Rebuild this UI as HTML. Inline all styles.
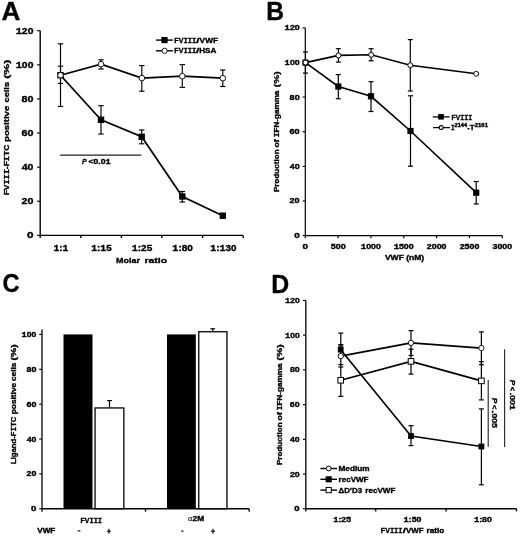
<!DOCTYPE html>
<html><head><meta charset="utf-8"><style>
html,body{margin:0;padding:0;background:#fff;}
svg{display:block;will-change:transform;}
text{font-family:"Liberation Sans",sans-serif;fill:#000;font-kerning:none;stroke:#000;stroke-width:0.35px;}
</style></head><body>
<svg width="520" height="536" viewBox="0 0 520 536">
<rect width="520" height="536" fill="#fff"/>
<line x1="40.20" y1="30.70" x2="40.20" y2="238.00" stroke="#000" stroke-width="1.4"/>
<line x1="40.20" y1="235.40" x2="243.20" y2="235.40" stroke="#000" stroke-width="1.4"/>
<line x1="37.00" y1="235.40" x2="40.20" y2="235.40" stroke="#000" stroke-width="1.1"/>
<line x1="37.00" y1="201.28" x2="40.20" y2="201.28" stroke="#000" stroke-width="1.1"/>
<line x1="37.00" y1="167.17" x2="40.20" y2="167.17" stroke="#000" stroke-width="1.1"/>
<line x1="37.00" y1="133.05" x2="40.20" y2="133.05" stroke="#000" stroke-width="1.1"/>
<line x1="37.00" y1="98.93" x2="40.20" y2="98.93" stroke="#000" stroke-width="1.1"/>
<line x1="37.00" y1="64.82" x2="40.20" y2="64.82" stroke="#000" stroke-width="1.1"/>
<line x1="37.00" y1="30.70" x2="40.20" y2="30.70" stroke="#000" stroke-width="1.1"/>
<line x1="80.80" y1="235.40" x2="80.80" y2="238.00" stroke="#000" stroke-width="1.4"/>
<line x1="121.40" y1="235.40" x2="121.40" y2="238.00" stroke="#000" stroke-width="1.4"/>
<line x1="161.80" y1="235.40" x2="161.80" y2="238.00" stroke="#000" stroke-width="1.4"/>
<line x1="202.60" y1="235.40" x2="202.60" y2="238.00" stroke="#000" stroke-width="1.4"/>
<line x1="243.20" y1="235.40" x2="243.20" y2="238.00" stroke="#000" stroke-width="1.4"/>
<text x="26.99" y="238.30" textLength="6.49" lengthAdjust="spacingAndGlyphs" style="font-size:8.43px;font-weight:bold;">0</text>
<text x="21.53" y="204.18" textLength="11.91" lengthAdjust="spacingAndGlyphs" style="font-size:8.43px;font-weight:bold;">20</text>
<text x="21.74" y="170.07" textLength="11.69" lengthAdjust="spacingAndGlyphs" style="font-size:8.43px;font-weight:bold;">40</text>
<text x="21.51" y="135.95" textLength="11.93" lengthAdjust="spacingAndGlyphs" style="font-size:8.43px;font-weight:bold;">60</text>
<text x="21.56" y="101.83" textLength="11.88" lengthAdjust="spacingAndGlyphs" style="font-size:8.43px;font-weight:bold;">80</text>
<text x="15.65" y="67.72" textLength="17.78" lengthAdjust="spacingAndGlyphs" style="font-size:8.43px;font-weight:bold;"><tspan style="font-family:&quot;Liberation Mono&quot;">1</tspan>00</text>
<text x="15.65" y="33.60" textLength="17.78" lengthAdjust="spacingAndGlyphs" style="font-size:8.43px;font-weight:bold;"><tspan style="font-family:&quot;Liberation Mono&quot;">1</tspan>20</text>
<text x="53.57" y="250.80" textLength="14.81" lengthAdjust="spacingAndGlyphs" style="font-size:8.87px;font-weight:bold;"><tspan style="font-family:&quot;Liberation Mono&quot;">1</tspan>:<tspan style="font-family:&quot;Liberation Mono&quot;">1</tspan></text>
<text x="91.19" y="250.80" textLength="20.43" lengthAdjust="spacingAndGlyphs" style="font-size:8.87px;font-weight:bold;"><tspan style="font-family:&quot;Liberation Mono&quot;">1</tspan>:<tspan style="font-family:&quot;Liberation Mono&quot;">1</tspan>5</text>
<text x="131.78" y="250.80" textLength="20.45" lengthAdjust="spacingAndGlyphs" style="font-size:8.87px;font-weight:bold;"><tspan style="font-family:&quot;Liberation Mono&quot;">1</tspan>:25</text>
<text x="172.37" y="250.80" textLength="20.59" lengthAdjust="spacingAndGlyphs" style="font-size:8.87px;font-weight:bold;"><tspan style="font-family:&quot;Liberation Mono&quot;">1</tspan>:80</text>
<text x="210.34" y="250.80" textLength="26.07" lengthAdjust="spacingAndGlyphs" style="font-size:8.87px;font-weight:bold;"><tspan style="font-family:&quot;Liberation Mono&quot;">1</tspan>:<tspan style="font-family:&quot;Liberation Mono&quot;">1</tspan>30</text>
<text x="116.10" y="263.10" textLength="23.83" lengthAdjust="spacingAndGlyphs" style="font-size:7.80px;font-weight:bold;">Molar</text>
<text x="144.51" y="263.10" textLength="22.59" lengthAdjust="spacingAndGlyphs" style="font-size:7.80px;font-weight:bold;">ratio</text>
<text transform="translate(9.30,195.37) rotate(-90)" x="0" y="0" textLength="50.70" lengthAdjust="spacingAndGlyphs" style="font-size:7.90px;font-weight:bold;">FV<tspan style="font-family:&quot;Liberation Mono&quot;">III</tspan>-F<tspan style="font-family:&quot;Liberation Mono&quot;">I</tspan>TC</text>
<text transform="translate(9.30,141.93) rotate(-90)" x="0" y="0" textLength="36.16" lengthAdjust="spacingAndGlyphs" style="font-size:7.90px;font-weight:bold;">positive</text>
<text transform="translate(9.30,102.46) rotate(-90)" x="0" y="0" textLength="20.54" lengthAdjust="spacingAndGlyphs" style="font-size:7.90px;font-weight:bold;">cells</text>
<text transform="translate(9.30,78.81) rotate(-90)" x="0" y="0" textLength="19.12" lengthAdjust="spacingAndGlyphs" style="font-size:7.90px;font-weight:bold;">(%)</text>
<text x="1.45" y="20.10" textLength="18.84" lengthAdjust="spacingAndGlyphs" style="font-size:26.16px;font-weight:bold;">A</text>
<line x1="60.10" y1="155.10" x2="141.30" y2="155.10" stroke="#222" stroke-width="1.2"/>
<line x1="60.50" y1="43.80" x2="60.50" y2="106.50" stroke="#000" stroke-width="1.15"/>
<line x1="57.80" y1="43.80" x2="63.20" y2="43.80" stroke="#000" stroke-width="1.15"/>
<line x1="57.80" y1="106.50" x2="63.20" y2="106.50" stroke="#000" stroke-width="1.15"/>
<line x1="60.50" y1="66.20" x2="60.50" y2="83.50" stroke="#000" stroke-width="1.15"/>
<line x1="57.80" y1="66.20" x2="63.20" y2="66.20" stroke="#000" stroke-width="1.15"/>
<line x1="57.80" y1="83.50" x2="63.20" y2="83.50" stroke="#000" stroke-width="1.15"/>
<line x1="101.00" y1="59.80" x2="101.00" y2="69.00" stroke="#000" stroke-width="1.15"/>
<line x1="98.30" y1="59.80" x2="103.70" y2="59.80" stroke="#000" stroke-width="1.15"/>
<line x1="98.30" y1="69.00" x2="103.70" y2="69.00" stroke="#000" stroke-width="1.15"/>
<line x1="101.00" y1="105.70" x2="101.00" y2="134.00" stroke="#000" stroke-width="1.15"/>
<line x1="98.30" y1="105.70" x2="103.70" y2="105.70" stroke="#000" stroke-width="1.15"/>
<line x1="98.30" y1="134.00" x2="103.70" y2="134.00" stroke="#000" stroke-width="1.15"/>
<line x1="141.80" y1="65.60" x2="141.80" y2="91.20" stroke="#000" stroke-width="1.15"/>
<line x1="139.10" y1="65.60" x2="144.50" y2="65.60" stroke="#000" stroke-width="1.15"/>
<line x1="139.10" y1="91.20" x2="144.50" y2="91.20" stroke="#000" stroke-width="1.15"/>
<line x1="141.70" y1="130.00" x2="141.70" y2="143.80" stroke="#000" stroke-width="1.15"/>
<line x1="139.00" y1="130.00" x2="144.40" y2="130.00" stroke="#000" stroke-width="1.15"/>
<line x1="139.00" y1="143.80" x2="144.40" y2="143.80" stroke="#000" stroke-width="1.15"/>
<line x1="182.30" y1="64.60" x2="182.30" y2="87.40" stroke="#000" stroke-width="1.15"/>
<line x1="179.60" y1="64.60" x2="185.00" y2="64.60" stroke="#000" stroke-width="1.15"/>
<line x1="179.60" y1="87.40" x2="185.00" y2="87.40" stroke="#000" stroke-width="1.15"/>
<line x1="182.30" y1="191.50" x2="182.30" y2="202.00" stroke="#000" stroke-width="1.15"/>
<line x1="179.60" y1="191.50" x2="185.00" y2="191.50" stroke="#000" stroke-width="1.15"/>
<line x1="179.60" y1="202.00" x2="185.00" y2="202.00" stroke="#000" stroke-width="1.15"/>
<line x1="222.80" y1="70.00" x2="222.80" y2="86.50" stroke="#000" stroke-width="1.15"/>
<line x1="220.10" y1="70.00" x2="225.50" y2="70.00" stroke="#000" stroke-width="1.15"/>
<line x1="220.10" y1="86.50" x2="225.50" y2="86.50" stroke="#000" stroke-width="1.15"/>
<polyline points="60.50,75.20 101.00,119.80 141.70,136.80 182.30,196.50 222.80,215.70" fill="none" stroke="#000" stroke-width="1.7" stroke-linejoin="miter"/>
<polyline points="60.50,75.20 101.00,64.20 141.90,78.10 182.30,76.20 222.80,78.20" fill="none" stroke="#000" stroke-width="1.7" stroke-linejoin="miter"/>
<rect x="57.30" y="72.00" width="6.4" height="6.4" fill="#000"/>
<rect x="97.80" y="116.60" width="6.4" height="6.4" fill="#000"/>
<rect x="138.50" y="133.60" width="6.4" height="6.4" fill="#000"/>
<rect x="179.10" y="193.30" width="6.4" height="6.4" fill="#000"/>
<rect x="219.60" y="212.50" width="6.4" height="6.4" fill="#000"/>
<circle cx="60.50" cy="75.20" r="2.80" fill="#fff" stroke="#000" stroke-width="0.9"/>
<circle cx="101.00" cy="64.20" r="2.80" fill="#fff" stroke="#000" stroke-width="0.9"/>
<circle cx="141.90" cy="78.10" r="2.80" fill="#fff" stroke="#000" stroke-width="0.9"/>
<circle cx="182.30" cy="76.20" r="2.80" fill="#fff" stroke="#000" stroke-width="0.9"/>
<circle cx="222.80" cy="78.20" r="2.80" fill="#fff" stroke="#000" stroke-width="0.9"/>
<line x1="156.00" y1="40.10" x2="172.90" y2="40.10" stroke="#000" stroke-width="1.4"/>
<rect x="161.40" y="37.00" width="6.2" height="6.2" fill="#000"/>
<line x1="156.00" y1="50.80" x2="172.90" y2="50.80" stroke="#000" stroke-width="1.4"/>
<circle cx="164.60" cy="50.80" r="2.65" fill="#fff" stroke="#000" stroke-width="0.9"/>
<text x="174.32" y="42.50" textLength="22.02" lengthAdjust="spacingAndGlyphs" style="font-size:7.41px;font-weight:bold;">FV<tspan style="font-family:&quot;Liberation Mono&quot;">III</tspan></text>
<text x="196.39" y="42.50" textLength="3.23" lengthAdjust="spacingAndGlyphs" style="font-size:7.41px;font-weight:bold;">/</text>
<text x="199.64" y="42.50" textLength="18.36" lengthAdjust="spacingAndGlyphs" style="font-size:7.41px;font-weight:bold;">VWF</text>
<text x="174.32" y="53.40" textLength="22.02" lengthAdjust="spacingAndGlyphs" style="font-size:7.41px;font-weight:bold;">FV<tspan style="font-family:&quot;Liberation Mono&quot;">III</tspan></text>
<text x="196.09" y="53.40" textLength="3.23" lengthAdjust="spacingAndGlyphs" style="font-size:7.41px;font-weight:bold;">/</text>
<text x="199.16" y="53.40" textLength="17.16" lengthAdjust="spacingAndGlyphs" style="font-size:7.41px;font-weight:bold;">HSA</text>
<text x="81.88" y="164.00" textLength="4.71" lengthAdjust="spacingAndGlyphs" style="font-size:7.41px;font-weight:bold;font-style:italic;">P</text>
<text x="88.44" y="164.00" textLength="22.23" lengthAdjust="spacingAndGlyphs" style="font-size:7.41px;font-weight:bold;">&lt;0.0<tspan style="font-family:&quot;Liberation Mono&quot;">1</tspan></text>
<line x1="305.30" y1="27.90" x2="305.30" y2="238.20" stroke="#000" stroke-width="1.2"/>
<line x1="305.30" y1="235.60" x2="502.30" y2="235.60" stroke="#000" stroke-width="1.2"/>
<line x1="302.60" y1="235.60" x2="305.30" y2="235.60" stroke="#000" stroke-width="1.1"/>
<line x1="302.60" y1="200.98" x2="305.30" y2="200.98" stroke="#000" stroke-width="1.1"/>
<line x1="302.60" y1="166.37" x2="305.30" y2="166.37" stroke="#000" stroke-width="1.1"/>
<line x1="302.60" y1="131.75" x2="305.30" y2="131.75" stroke="#000" stroke-width="1.1"/>
<line x1="302.60" y1="97.13" x2="305.30" y2="97.13" stroke="#000" stroke-width="1.1"/>
<line x1="302.60" y1="62.52" x2="305.30" y2="62.52" stroke="#000" stroke-width="1.1"/>
<line x1="302.60" y1="27.90" x2="305.30" y2="27.90" stroke="#000" stroke-width="1.1"/>
<line x1="338.13" y1="235.60" x2="338.13" y2="238.20" stroke="#000" stroke-width="1.2"/>
<line x1="370.97" y1="235.60" x2="370.97" y2="238.20" stroke="#000" stroke-width="1.2"/>
<line x1="403.80" y1="235.60" x2="403.80" y2="238.20" stroke="#000" stroke-width="1.2"/>
<line x1="436.63" y1="235.60" x2="436.63" y2="238.20" stroke="#000" stroke-width="1.2"/>
<line x1="469.47" y1="235.60" x2="469.47" y2="238.20" stroke="#000" stroke-width="1.2"/>
<line x1="502.30" y1="235.60" x2="502.30" y2="238.20" stroke="#000" stroke-width="1.2"/>
<text x="294.21" y="238.10" textLength="5.50" lengthAdjust="spacingAndGlyphs" style="font-size:7.27px;font-weight:bold;">0</text>
<text x="289.59" y="203.48" textLength="10.09" lengthAdjust="spacingAndGlyphs" style="font-size:7.27px;font-weight:bold;">20</text>
<text x="289.77" y="168.87" textLength="9.90" lengthAdjust="spacingAndGlyphs" style="font-size:7.27px;font-weight:bold;">40</text>
<text x="289.57" y="134.25" textLength="10.11" lengthAdjust="spacingAndGlyphs" style="font-size:7.27px;font-weight:bold;">60</text>
<text x="289.61" y="99.63" textLength="10.06" lengthAdjust="spacingAndGlyphs" style="font-size:7.27px;font-weight:bold;">80</text>
<text x="284.61" y="65.02" textLength="15.05" lengthAdjust="spacingAndGlyphs" style="font-size:7.27px;font-weight:bold;"><tspan style="font-family:&quot;Liberation Mono&quot;">1</tspan>00</text>
<text x="284.61" y="30.40" textLength="15.05" lengthAdjust="spacingAndGlyphs" style="font-size:7.27px;font-weight:bold;"><tspan style="font-family:&quot;Liberation Mono&quot;">1</tspan>20</text>
<text x="302.53" y="248.90" textLength="5.55" lengthAdjust="spacingAndGlyphs" style="font-size:6.98px;font-weight:bold;">0</text>
<text x="330.73" y="248.90" textLength="14.89" lengthAdjust="spacingAndGlyphs" style="font-size:6.98px;font-weight:bold;">500</text>
<text x="360.87" y="248.90" textLength="19.95" lengthAdjust="spacingAndGlyphs" style="font-size:6.98px;font-weight:bold;"><tspan style="font-family:&quot;Liberation Mono&quot;">1</tspan>000</text>
<text x="393.71" y="248.90" textLength="19.95" lengthAdjust="spacingAndGlyphs" style="font-size:6.98px;font-weight:bold;"><tspan style="font-family:&quot;Liberation Mono&quot;">1</tspan>500</text>
<text x="426.83" y="248.90" textLength="19.67" lengthAdjust="spacingAndGlyphs" style="font-size:6.98px;font-weight:bold;">2000</text>
<text x="459.66" y="248.90" textLength="19.67" lengthAdjust="spacingAndGlyphs" style="font-size:6.98px;font-weight:bold;">2500</text>
<text x="492.60" y="248.90" textLength="19.56" lengthAdjust="spacingAndGlyphs" style="font-size:6.98px;font-weight:bold;">3000</text>
<text x="384.94" y="259.90" textLength="39.18" lengthAdjust="spacingAndGlyphs" style="font-size:7.00px;font-weight:bold;">VWF (nM)</text>
<text transform="translate(279.00,192.04) rotate(-90)" x="0" y="0" textLength="42.64" lengthAdjust="spacingAndGlyphs" style="font-size:7.60px;font-weight:bold;">Production</text>
<text transform="translate(279.00,147.44) rotate(-90)" x="0" y="0" textLength="8.12" lengthAdjust="spacingAndGlyphs" style="font-size:7.60px;font-weight:bold;">of</text>
<text transform="translate(279.00,137.32) rotate(-90)" x="0" y="0" textLength="46.67" lengthAdjust="spacingAndGlyphs" style="font-size:7.60px;font-weight:bold;"><tspan style="font-family:&quot;Liberation Mono&quot;">I</tspan>FN-gamma</text>
<text transform="translate(279.00,87.21) rotate(-90)" x="0" y="0" textLength="15.81" lengthAdjust="spacingAndGlyphs" style="font-size:7.60px;font-weight:bold;">(%)</text>
<text x="266.25" y="20.30" textLength="17.76" lengthAdjust="spacingAndGlyphs" style="font-size:26.45px;font-weight:bold;">B</text>
<line x1="305.50" y1="51.90" x2="305.50" y2="73.10" stroke="#000" stroke-width="1.2"/>
<line x1="303.00" y1="51.90" x2="308.00" y2="51.90" stroke="#000" stroke-width="1.2"/>
<line x1="303.00" y1="73.10" x2="308.00" y2="73.10" stroke="#000" stroke-width="1.2"/>
<line x1="338.40" y1="48.70" x2="338.40" y2="62.10" stroke="#000" stroke-width="1.2"/>
<line x1="335.90" y1="48.70" x2="340.90" y2="48.70" stroke="#000" stroke-width="1.2"/>
<line x1="335.90" y1="62.10" x2="340.90" y2="62.10" stroke="#000" stroke-width="1.2"/>
<line x1="338.30" y1="74.60" x2="338.30" y2="98.70" stroke="#000" stroke-width="1.2"/>
<line x1="335.80" y1="74.60" x2="340.80" y2="74.60" stroke="#000" stroke-width="1.2"/>
<line x1="335.80" y1="98.70" x2="340.80" y2="98.70" stroke="#000" stroke-width="1.2"/>
<line x1="371.10" y1="48.70" x2="371.10" y2="60.80" stroke="#000" stroke-width="1.2"/>
<line x1="368.60" y1="48.70" x2="373.60" y2="48.70" stroke="#000" stroke-width="1.2"/>
<line x1="368.60" y1="60.80" x2="373.60" y2="60.80" stroke="#000" stroke-width="1.2"/>
<line x1="371.00" y1="81.70" x2="371.00" y2="111.50" stroke="#000" stroke-width="1.2"/>
<line x1="368.50" y1="81.70" x2="373.50" y2="81.70" stroke="#000" stroke-width="1.2"/>
<line x1="368.50" y1="111.50" x2="373.50" y2="111.50" stroke="#000" stroke-width="1.2"/>
<line x1="410.30" y1="39.60" x2="410.30" y2="91.00" stroke="#000" stroke-width="1.2"/>
<line x1="407.80" y1="39.60" x2="412.80" y2="39.60" stroke="#000" stroke-width="1.2"/>
<line x1="407.80" y1="91.00" x2="412.80" y2="91.00" stroke="#000" stroke-width="1.2"/>
<line x1="410.50" y1="95.80" x2="410.50" y2="166.20" stroke="#000" stroke-width="1.2"/>
<line x1="408.00" y1="95.80" x2="413.00" y2="95.80" stroke="#000" stroke-width="1.2"/>
<line x1="408.00" y1="166.20" x2="413.00" y2="166.20" stroke="#000" stroke-width="1.2"/>
<line x1="476.20" y1="181.50" x2="476.20" y2="204.00" stroke="#000" stroke-width="1.2"/>
<line x1="473.70" y1="181.50" x2="478.70" y2="181.50" stroke="#000" stroke-width="1.2"/>
<line x1="473.70" y1="204.00" x2="478.70" y2="204.00" stroke="#000" stroke-width="1.2"/>
<polyline points="305.50,62.60 338.30,86.50 371.00,96.30 410.50,131.00 476.20,192.70" fill="none" stroke="#000" stroke-width="1.6" stroke-linejoin="miter"/>
<polyline points="305.50,62.60 338.50,55.40 371.20,54.80 410.30,65.20 476.20,73.80" fill="none" stroke="#000" stroke-width="1.6" stroke-linejoin="miter"/>
<rect x="302.40" y="59.50" width="6.2" height="6.2" fill="#000"/>
<rect x="335.20" y="83.40" width="6.2" height="6.2" fill="#000"/>
<rect x="367.90" y="93.20" width="6.2" height="6.2" fill="#000"/>
<rect x="407.40" y="127.90" width="6.2" height="6.2" fill="#000"/>
<rect x="473.10" y="189.60" width="6.2" height="6.2" fill="#000"/>
<circle cx="305.50" cy="62.60" r="2.48" fill="#fff" stroke="#000" stroke-width="0.95"/>
<circle cx="338.50" cy="55.40" r="2.48" fill="#fff" stroke="#000" stroke-width="0.95"/>
<circle cx="371.20" cy="54.80" r="2.48" fill="#fff" stroke="#000" stroke-width="0.95"/>
<circle cx="410.30" cy="65.20" r="2.48" fill="#fff" stroke="#000" stroke-width="0.95"/>
<circle cx="476.20" cy="73.80" r="2.48" fill="#fff" stroke="#000" stroke-width="0.95"/>
<line x1="432.90" y1="116.90" x2="449.60" y2="116.90" stroke="#000" stroke-width="1.3"/>
<rect x="438.20" y="114.00" width="5.6" height="5.6" fill="#000"/>
<line x1="433.10" y1="127.60" x2="449.90" y2="127.60" stroke="#000" stroke-width="1.3"/>
<circle cx="441.20" cy="127.60" r="1.95" fill="#fff" stroke="#000" stroke-width="1.1"/>
<text x="451.55" y="119.50" textLength="20.87" lengthAdjust="spacingAndGlyphs" style="font-size:7.41px;font-weight:bold;">FV<tspan style="font-family:&quot;Liberation Mono&quot;">III</tspan></text>
<text x="450.94" y="129.80" textLength="3.62" lengthAdjust="spacingAndGlyphs" style="font-size:7.27px;font-weight:bold;"><tspan style="font-family:&quot;Liberation Mono&quot;">I</tspan></text>
<text x="454.61" y="126.60" textLength="12.42" lengthAdjust="spacingAndGlyphs" style="font-size:4.80px;font-weight:bold;">2144</text>
<rect x="467.4" y="128.0" width="2.1" height="1.4" fill="#000"/>
<text x="469.71" y="129.80" textLength="4.77" lengthAdjust="spacingAndGlyphs" style="font-size:7.27px;font-weight:bold;">T</text>
<text x="474.79" y="126.60" textLength="13.17" lengthAdjust="spacingAndGlyphs" style="font-size:4.80px;font-weight:bold;">2161</text>
<line x1="42.00" y1="329.40" x2="42.00" y2="511.70" stroke="#000" stroke-width="1.3"/>
<line x1="42.00" y1="508.75" x2="249.20" y2="508.75" stroke="#000" stroke-width="1.3"/>
<line x1="39.20" y1="508.75" x2="42.00" y2="508.75" stroke="#000" stroke-width="1.1"/>
<line x1="39.20" y1="473.88" x2="42.00" y2="473.88" stroke="#000" stroke-width="1.1"/>
<line x1="39.20" y1="439.01" x2="42.00" y2="439.01" stroke="#000" stroke-width="1.1"/>
<line x1="39.20" y1="404.14" x2="42.00" y2="404.14" stroke="#000" stroke-width="1.1"/>
<line x1="39.20" y1="369.27" x2="42.00" y2="369.27" stroke="#000" stroke-width="1.1"/>
<line x1="39.20" y1="334.40" x2="42.00" y2="334.40" stroke="#000" stroke-width="1.1"/>
<line x1="145.50" y1="508.75" x2="145.50" y2="511.70" stroke="#000" stroke-width="1.3"/>
<line x1="249.20" y1="508.75" x2="249.20" y2="511.70" stroke="#000" stroke-width="1.3"/>
<text x="31.02" y="511.25" textLength="5.38" lengthAdjust="spacingAndGlyphs" style="font-size:7.27px;font-weight:bold;">0</text>
<text x="26.49" y="476.38" textLength="9.87" lengthAdjust="spacingAndGlyphs" style="font-size:7.27px;font-weight:bold;">20</text>
<text x="26.67" y="441.51" textLength="9.69" lengthAdjust="spacingAndGlyphs" style="font-size:7.27px;font-weight:bold;">40</text>
<text x="26.47" y="406.64" textLength="9.89" lengthAdjust="spacingAndGlyphs" style="font-size:7.27px;font-weight:bold;">60</text>
<text x="26.52" y="371.77" textLength="9.84" lengthAdjust="spacingAndGlyphs" style="font-size:7.27px;font-weight:bold;">80</text>
<text x="21.62" y="336.90" textLength="14.73" lengthAdjust="spacingAndGlyphs" style="font-size:7.27px;font-weight:bold;"><tspan style="font-family:&quot;Liberation Mono&quot;">1</tspan>00</text>
<rect x="63.5" y="334.40" width="29.0" height="174.35" fill="#000"/>
<rect x="167.0" y="334.40" width="28.8" height="174.35" fill="#000"/>
<rect x="95.05" y="407.95" width="28.8" height="100.80" fill="#fff" stroke="#000" stroke-width="1.3"/>
<rect x="198.75" y="331.75" width="28.2" height="177.00" fill="#fff" stroke="#000" stroke-width="1.3"/>
<line x1="109.50" y1="400.60" x2="109.50" y2="407.30" stroke="#000" stroke-width="1.2"/>
<line x1="107.10" y1="400.60" x2="111.90" y2="400.60" stroke="#000" stroke-width="1.2"/>
<line x1="212.70" y1="328.80" x2="212.70" y2="331.10" stroke="#000" stroke-width="1.2"/>
<line x1="210.40" y1="328.80" x2="215.10" y2="328.80" stroke="#000" stroke-width="1.2"/>
<text x="80.53" y="523.00" textLength="21.50" lengthAdjust="spacingAndGlyphs" style="font-size:6.83px;font-weight:bold;">FV<tspan style="font-family:&quot;Liberation Mono&quot;">III</tspan></text>
<text x="187.99" y="520.90" textLength="4.22" lengthAdjust="spacingAndGlyphs" style="font-size:6.60px;stroke-width:0.1px;">α</text>
<text x="192.51" y="521.00" textLength="11.65" lengthAdjust="spacingAndGlyphs" style="font-size:6.98px;font-weight:bold;">2M</text>
<text x="37.24" y="533.00" textLength="18.05" lengthAdjust="spacingAndGlyphs" style="font-size:6.54px;font-weight:bold;">VWF</text>
<line x1="77.70" y1="530.90" x2="80.40" y2="530.90" stroke="#000" stroke-width="1.1"/>
<line x1="181.20" y1="531.10" x2="183.50" y2="531.10" stroke="#000" stroke-width="1.1"/>
<line x1="106.90" y1="531.20" x2="110.90" y2="531.20" stroke="#000" stroke-width="1.1"/>
<line x1="108.90" y1="528.70" x2="108.90" y2="533.80" stroke="#000" stroke-width="1.1"/>
<line x1="211.00" y1="531.20" x2="215.00" y2="531.20" stroke="#000" stroke-width="1.1"/>
<line x1="213.00" y1="528.70" x2="213.00" y2="533.80" stroke="#000" stroke-width="1.1"/>
<text transform="translate(16.00,464.02) rotate(-90)" x="0" y="0" textLength="47.43" lengthAdjust="spacingAndGlyphs" style="font-size:7.50px;font-weight:bold;">Ligand-F<tspan style="font-family:&quot;Liberation Mono&quot;">I</tspan>TC</text>
<text transform="translate(16.00,414.25) rotate(-90)" x="0" y="0" textLength="31.43" lengthAdjust="spacingAndGlyphs" style="font-size:7.50px;font-weight:bold;">positive</text>
<text transform="translate(16.00,380.92) rotate(-90)" x="0" y="0" textLength="18.36" lengthAdjust="spacingAndGlyphs" style="font-size:7.50px;font-weight:bold;">cells</text>
<text transform="translate(16.00,360.42) rotate(-90)" x="0" y="0" textLength="16.13" lengthAdjust="spacingAndGlyphs" style="font-size:7.50px;font-weight:bold;">(%)</text>
<text x="2.53" y="292.24" textLength="17.01" lengthAdjust="spacingAndGlyphs" style="font-size:26.40px;font-weight:bold;">C</text>
<line x1="305.80" y1="300.40" x2="305.80" y2="511.40" stroke="#000" stroke-width="1.3"/>
<line x1="305.80" y1="508.75" x2="516.50" y2="508.75" stroke="#000" stroke-width="1.3"/>
<line x1="302.90" y1="508.75" x2="305.80" y2="508.75" stroke="#000" stroke-width="1.1"/>
<line x1="302.90" y1="474.03" x2="305.80" y2="474.03" stroke="#000" stroke-width="1.1"/>
<line x1="302.90" y1="439.31" x2="305.80" y2="439.31" stroke="#000" stroke-width="1.1"/>
<line x1="302.90" y1="404.59" x2="305.80" y2="404.59" stroke="#000" stroke-width="1.1"/>
<line x1="302.90" y1="369.87" x2="305.80" y2="369.87" stroke="#000" stroke-width="1.1"/>
<line x1="302.90" y1="335.15" x2="305.80" y2="335.15" stroke="#000" stroke-width="1.1"/>
<line x1="302.90" y1="300.43" x2="305.80" y2="300.43" stroke="#000" stroke-width="1.1"/>
<line x1="375.70" y1="508.75" x2="375.70" y2="511.40" stroke="#000" stroke-width="1.3"/>
<line x1="446.10" y1="508.75" x2="446.10" y2="511.40" stroke="#000" stroke-width="1.3"/>
<line x1="516.50" y1="508.75" x2="516.50" y2="511.40" stroke="#000" stroke-width="1.3"/>
<text x="294.37" y="511.30" textLength="5.32" lengthAdjust="spacingAndGlyphs" style="font-size:7.41px;font-weight:bold;">0</text>
<text x="289.90" y="476.58" textLength="9.76" lengthAdjust="spacingAndGlyphs" style="font-size:7.41px;font-weight:bold;">20</text>
<text x="290.07" y="441.86" textLength="9.58" lengthAdjust="spacingAndGlyphs" style="font-size:7.41px;font-weight:bold;">40</text>
<text x="289.88" y="407.14" textLength="9.78" lengthAdjust="spacingAndGlyphs" style="font-size:7.41px;font-weight:bold;">60</text>
<text x="289.92" y="372.42" textLength="9.74" lengthAdjust="spacingAndGlyphs" style="font-size:7.41px;font-weight:bold;">80</text>
<text x="285.08" y="337.70" textLength="14.57" lengthAdjust="spacingAndGlyphs" style="font-size:7.41px;font-weight:bold;"><tspan style="font-family:&quot;Liberation Mono&quot;">1</tspan>00</text>
<text x="285.08" y="302.98" textLength="14.57" lengthAdjust="spacingAndGlyphs" style="font-size:7.41px;font-weight:bold;"><tspan style="font-family:&quot;Liberation Mono&quot;">1</tspan>20</text>
<text x="333.21" y="522.10" textLength="17.83" lengthAdjust="spacingAndGlyphs" style="font-size:7.12px;font-weight:bold;"><tspan style="font-family:&quot;Liberation Mono&quot;">1</tspan>:25</text>
<text x="403.51" y="522.10" textLength="17.95" lengthAdjust="spacingAndGlyphs" style="font-size:7.12px;font-weight:bold;"><tspan style="font-family:&quot;Liberation Mono&quot;">1</tspan>:50</text>
<text x="473.91" y="522.10" textLength="17.95" lengthAdjust="spacingAndGlyphs" style="font-size:7.12px;font-weight:bold;"><tspan style="font-family:&quot;Liberation Mono&quot;">1</tspan>:80</text>
<text x="380.83" y="533.00" textLength="21.81" lengthAdjust="spacingAndGlyphs" style="font-size:7.41px;font-weight:bold;">FV<tspan style="font-family:&quot;Liberation Mono&quot;">III</tspan></text>
<text x="402.69" y="533.00" textLength="3.12" lengthAdjust="spacingAndGlyphs" style="font-size:7.41px;font-weight:bold;">/</text>
<text x="406.05" y="533.00" textLength="17.65" lengthAdjust="spacingAndGlyphs" style="font-size:7.41px;font-weight:bold;">VWF</text>
<text x="426.56" y="533.00" textLength="17.76" lengthAdjust="spacingAndGlyphs" style="font-size:7.30px;font-weight:bold;">ratio</text>
<text transform="translate(281.80,465.04) rotate(-90)" x="0" y="0" textLength="42.64" lengthAdjust="spacingAndGlyphs" style="font-size:7.60px;font-weight:bold;">Production</text>
<text transform="translate(281.80,420.44) rotate(-90)" x="0" y="0" textLength="8.22" lengthAdjust="spacingAndGlyphs" style="font-size:7.60px;font-weight:bold;">of</text>
<text transform="translate(281.80,410.32) rotate(-90)" x="0" y="0" textLength="46.77" lengthAdjust="spacingAndGlyphs" style="font-size:7.60px;font-weight:bold;"><tspan style="font-family:&quot;Liberation Mono&quot;">I</tspan>FN-gamma</text>
<text transform="translate(281.80,360.42) rotate(-90)" x="0" y="0" textLength="16.13" lengthAdjust="spacingAndGlyphs" style="font-size:7.60px;font-weight:bold;">(%)</text>
<text x="271.19" y="292.50" textLength="17.96" lengthAdjust="spacingAndGlyphs" style="font-size:25.44px;font-weight:bold;">D</text>
<line x1="340.80" y1="333.10" x2="340.80" y2="396.40" stroke="#000" stroke-width="1.2"/>
<line x1="338.30" y1="333.10" x2="343.30" y2="333.10" stroke="#000" stroke-width="1.2"/>
<line x1="338.30" y1="344.60" x2="343.30" y2="344.60" stroke="#000" stroke-width="1.2"/>
<line x1="338.30" y1="345.90" x2="343.30" y2="345.90" stroke="#000" stroke-width="1.2"/>
<line x1="338.30" y1="364.60" x2="343.30" y2="364.60" stroke="#000" stroke-width="1.2"/>
<line x1="338.30" y1="367.00" x2="343.30" y2="367.00" stroke="#000" stroke-width="1.2"/>
<line x1="338.30" y1="396.40" x2="343.30" y2="396.40" stroke="#000" stroke-width="1.2"/>
<line x1="411.00" y1="330.60" x2="411.00" y2="355.50" stroke="#000" stroke-width="1.2"/>
<line x1="408.50" y1="330.60" x2="413.50" y2="330.60" stroke="#000" stroke-width="1.2"/>
<line x1="408.50" y1="355.50" x2="413.50" y2="355.50" stroke="#000" stroke-width="1.2"/>
<line x1="411.00" y1="349.20" x2="411.00" y2="374.10" stroke="#000" stroke-width="1.2"/>
<line x1="408.50" y1="349.20" x2="413.50" y2="349.20" stroke="#000" stroke-width="1.2"/>
<line x1="408.50" y1="374.10" x2="413.50" y2="374.10" stroke="#000" stroke-width="1.2"/>
<line x1="411.00" y1="425.70" x2="411.00" y2="445.60" stroke="#000" stroke-width="1.2"/>
<line x1="408.50" y1="425.70" x2="413.50" y2="425.70" stroke="#000" stroke-width="1.2"/>
<line x1="408.50" y1="445.60" x2="413.50" y2="445.60" stroke="#000" stroke-width="1.2"/>
<line x1="481.40" y1="331.90" x2="481.40" y2="364.70" stroke="#000" stroke-width="1.2"/>
<line x1="478.90" y1="331.90" x2="483.90" y2="331.90" stroke="#000" stroke-width="1.2"/>
<line x1="478.90" y1="364.70" x2="483.90" y2="364.70" stroke="#000" stroke-width="1.2"/>
<line x1="481.40" y1="361.70" x2="481.40" y2="399.90" stroke="#000" stroke-width="1.2"/>
<line x1="478.90" y1="361.70" x2="483.90" y2="361.70" stroke="#000" stroke-width="1.2"/>
<line x1="478.90" y1="399.90" x2="483.90" y2="399.90" stroke="#000" stroke-width="1.2"/>
<line x1="481.40" y1="408.90" x2="481.40" y2="484.80" stroke="#000" stroke-width="1.2"/>
<line x1="478.90" y1="408.90" x2="483.90" y2="408.90" stroke="#000" stroke-width="1.2"/>
<line x1="478.90" y1="484.80" x2="483.90" y2="484.80" stroke="#000" stroke-width="1.2"/>
<polyline points="340.70,356.10 411.00,342.90 481.40,348.10" fill="none" stroke="#000" stroke-width="1.65" stroke-linejoin="miter"/>
<polyline points="340.70,349.70 411.00,436.00 481.40,446.50" fill="none" stroke="#000" stroke-width="1.65" stroke-linejoin="miter"/>
<polyline points="340.70,380.30 411.00,361.40 481.40,380.90" fill="none" stroke="#000" stroke-width="1.65" stroke-linejoin="miter"/>
<circle cx="340.70" cy="356.10" r="2.65" fill="#fff" stroke="#000" stroke-width="0.9"/>
<circle cx="411.00" cy="342.90" r="2.65" fill="#fff" stroke="#000" stroke-width="0.9"/>
<circle cx="481.40" cy="348.10" r="2.65" fill="#fff" stroke="#000" stroke-width="0.9"/>
<rect x="337.90" y="377.50" width="5.60" height="5.60" fill="#fff" stroke="#000" stroke-width="1.0"/>
<rect x="408.20" y="358.60" width="5.60" height="5.60" fill="#fff" stroke="#000" stroke-width="1.0"/>
<rect x="478.60" y="378.10" width="5.60" height="5.60" fill="#fff" stroke="#000" stroke-width="1.0"/>
<rect x="337.80" y="346.80" width="5.8" height="5.8" fill="#000"/>
<rect x="408.10" y="433.10" width="5.8" height="5.8" fill="#000"/>
<rect x="478.50" y="443.60" width="5.8" height="5.8" fill="#000"/>
<line x1="320.40" y1="468.50" x2="337.00" y2="468.50" stroke="#000" stroke-width="1.4"/>
<line x1="320.40" y1="479.30" x2="337.00" y2="479.30" stroke="#000" stroke-width="1.4"/>
<line x1="320.40" y1="490.10" x2="337.00" y2="490.10" stroke="#000" stroke-width="1.4"/>
<circle cx="328.70" cy="468.50" r="2.40" fill="#fff" stroke="#000" stroke-width="1.0"/>
<rect x="325.65" y="476.25" width="6.1" height="6.1" fill="#000"/>
<rect x="326.10" y="487.50" width="5.20" height="5.20" fill="#fff" stroke="#000" stroke-width="1.0"/>
<text x="338.55" y="471.20" textLength="30.96" lengthAdjust="spacingAndGlyphs" style="font-size:7.30px;font-weight:bold;">Medium</text>
<text x="338.57" y="481.60" textLength="29.92" lengthAdjust="spacingAndGlyphs" style="font-size:7.30px;font-weight:bold;">recVWF</text>
<text x="338.48" y="493.10" textLength="23.60" lengthAdjust="spacingAndGlyphs" style="font-size:7.30px;font-weight:bold;">ΔD’D3</text>
<text x="365.27" y="493.10" textLength="30.13" lengthAdjust="spacingAndGlyphs" style="font-size:7.30px;font-weight:bold;">recVWF</text>
<line x1="488.20" y1="380.00" x2="488.20" y2="446.70" stroke="#222" stroke-width="1.1"/>
<line x1="504.60" y1="349.20" x2="504.60" y2="447.00" stroke="#222" stroke-width="1.1"/>
<text transform="translate(492.00,397.85) rotate(90)" x="0" y="0" textLength="5.53" lengthAdjust="spacingAndGlyphs" style="font-size:7.30px;font-weight:bold;font-style:italic;">P</text>
<text transform="translate(492.00,405.09) rotate(90)" x="0" y="0" textLength="4.31" lengthAdjust="spacingAndGlyphs" style="font-size:7.30px;font-weight:bold;">&lt;</text>
<text transform="translate(492.00,410.28) rotate(90)" x="0" y="0" textLength="3.35" lengthAdjust="spacingAndGlyphs" style="font-size:7.30px;font-weight:bold;">.</text>
<text transform="translate(492.00,413.46) rotate(90)" x="0" y="0" textLength="14.38" lengthAdjust="spacingAndGlyphs" style="font-size:7.30px;font-weight:bold;">005</text>
<text transform="translate(509.90,379.85) rotate(90)" x="0" y="0" textLength="5.53" lengthAdjust="spacingAndGlyphs" style="font-size:7.30px;font-weight:bold;font-style:italic;">P</text>
<text transform="translate(509.90,386.79) rotate(90)" x="0" y="0" textLength="4.31" lengthAdjust="spacingAndGlyphs" style="font-size:7.30px;font-weight:bold;">&lt;</text>
<text transform="translate(509.90,392.43) rotate(90)" x="0" y="0" textLength="2.76" lengthAdjust="spacingAndGlyphs" style="font-size:7.30px;font-weight:bold;">.</text>
<text transform="translate(509.90,395.16) rotate(90)" x="0" y="0" textLength="14.81" lengthAdjust="spacingAndGlyphs" style="font-size:7.30px;font-weight:bold;">00<tspan style="font-family:&quot;Liberation Mono&quot;">1</tspan></text>
</svg>
</body></html>
